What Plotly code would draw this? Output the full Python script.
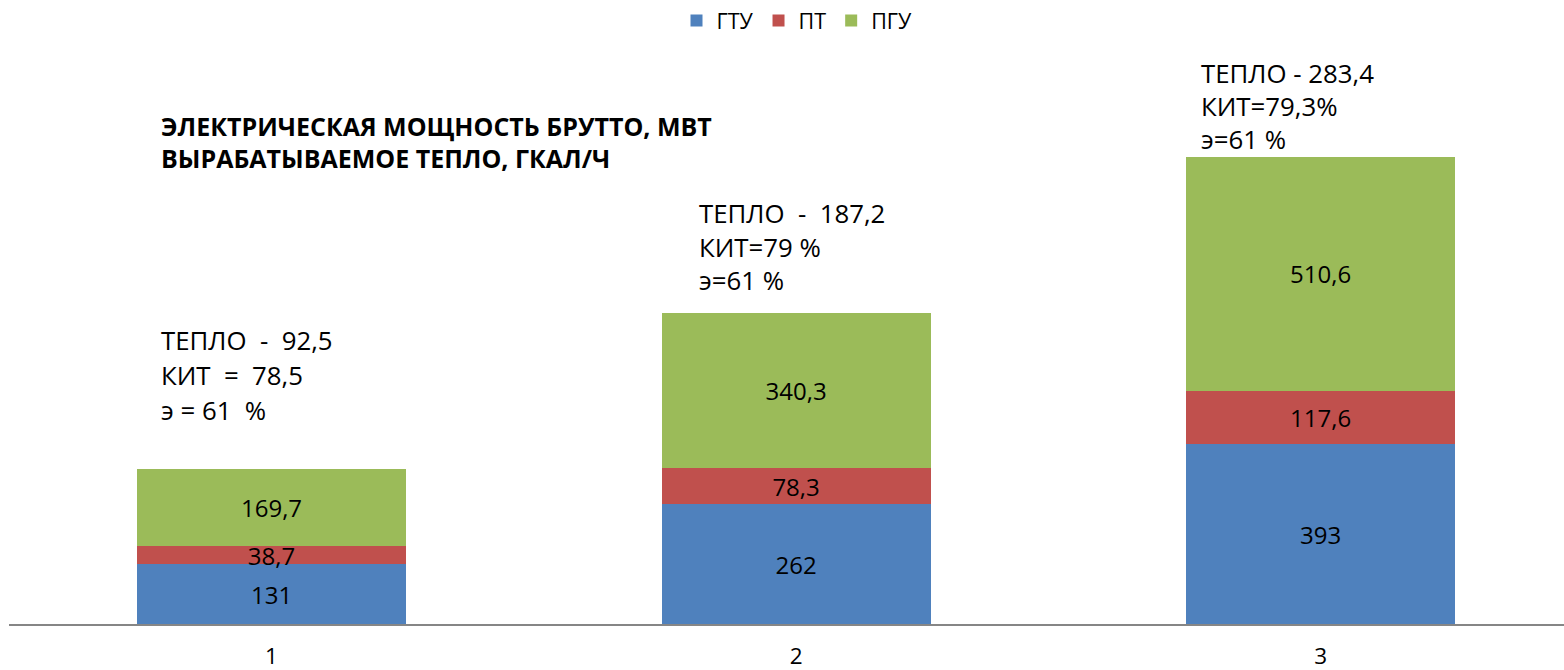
import plotly.graph_objects as go

categories = ["1", "2", "3"]
gtu = [131, 262, 393]
pt = [38.7, 78.3, 117.6]
pgu = [169.7, 340.3, 510.6]
series_names = ["ГТУ", "ПТ", "ПГУ"]
colors = ["#4F81BD", "#C0504D", "#9BBB59"]

notes = [
    ["ТЕПЛО\u00a0 -\u00a0 92,5", "КИТ\u00a0 =\u00a0 78,5", "э = 61\u00a0 %"],
    ["ТЕПЛО\u00a0 -\u00a0 187,2", "КИТ=79 %", "э=61 %"],
    ["ТЕПЛО - 283,4", "КИТ=79,3%", "э=61 %"],
]
title_lines = ["ЭЛЕКТРИЧЕСКАЯ МОЩНОСТЬ БРУТТО, МВТ", "ВЫРАБАТЫВАЕМОЕ ТЕПЛО, ГКАЛ/Ч"]

FONT = "Open Sans"
W, H = 1564, 670
ML, MR, MT, MB = 9, 0, 76, 46

def fmt(v):
    s = ("%g" % v)
    return s.replace(".", ",")

fig = go.Figure()
for name, vals, col in zip(series_names, [gtu, pt, pgu], colors):
    fig.add_trace(go.Bar(
        x=categories, y=vals, name=name,
        marker=dict(color=col, line=dict(width=0)),
        width=0.513,
        text=[fmt(v) for v in vals],
        textposition="inside",
        insidetextanchor="middle",
        constraintext="none",
        insidetextfont=dict(family=FONT, size=24, color="#000000"),
        hoverinfo="skip",
    ))

# page pixel -> paper helpers (for text placement only)
pw = W - ML - MR
ph = H - MT - MB
def px(xp):
    return (xp - ML) / pw
def py(yp):
    return (H - MB - yp) / ph

annotations = []
note_left = [161, 699, 1201]
note_tops = [341, 214, 74]
note_gap = [35, 33.5, 33]
for left, top, gap, lines in zip(note_left, note_tops, note_gap, notes):
    for i, t in enumerate(lines):
        annotations.append(dict(
            x=px(left - 2), y=py(top + i * gap - 1), xref="paper", yref="paper",
            xanchor="left", yanchor="middle", showarrow=False, text=t,
            font=dict(family=FONT, size=25.8, color="#000000"),
        ))
for i, t in enumerate(title_lines):
    annotations.append(dict(
        x=px(159), y=py(127 + i * 32 - 1), xref="paper", yref="paper",
        xanchor="left", yanchor="middle", showarrow=False, text="<b>%s</b>" % t,
        font=dict(family=FONT, size=25, color="#000000"),
    ))

fig.update_layout(
    width=W, height=H,
    margin=dict(l=ML, r=MR, t=MT, b=MB),
    barmode="stack",
    plot_bgcolor="white", paper_bgcolor="white",
    font=dict(family=FONT, color="#000000"),
    showlegend=True,
    legend=dict(
        orientation="h", xref="container", yref="container",
        x=797 / W, xanchor="center", y=1, yanchor="top",
        font=dict(family=FONT, size=21.5, color="#000000"),
        itemsizing="constant", itemwidth=30, traceorder="normal",
    ),
    xaxis=dict(
        type="category", range=[-0.5005, 2.464], showgrid=False,
        showline=True, linecolor="#868686", linewidth=1.5,
        ticks="", ticklabelstandoff=11, automargin=False,
        tickfont=dict(family=FONT, size=22.5, color="#000000"),
        zeroline=False, fixedrange=True,
    ),
    yaxis=dict(
        range=[0, 1199], visible=False, showgrid=False, zeroline=False,
        automargin=False, fixedrange=True,
    ),
    annotations=annotations,
)

fig.write_html(
    "out.html",
    config={"displayModeBar": False},
    post_script="document.body.style.margin='0';document.body.style.overflow='hidden';",
)
